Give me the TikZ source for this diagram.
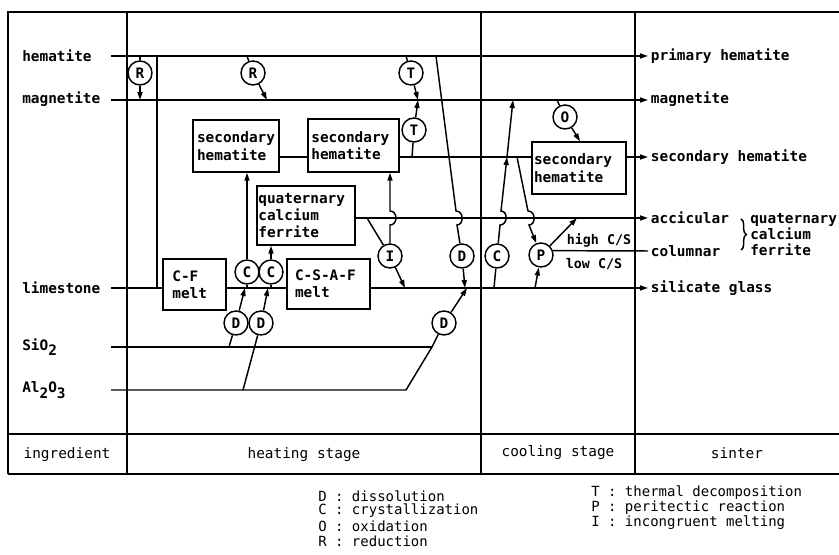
\documentclass[tikz,border=0pt]{standalone}
\usepackage{fontspec}
\setmainfont{DejaVu Sans Mono}
\setmonofont{DejaVu Sans Mono}
\usetikzlibrary{arrows.meta,decorations.pathreplacing,calc}
\begin{document}
\begin{tikzpicture}[x=0.75pt,y=-0.75pt,
  every node/.style={font=\fontsize{10.8}{13}\selectfont\bfseries, inner sep=0pt},
  ln/.style={line width=1.1pt},
  frm/.style={line width=1.5pt},
  arr/.style={ln,-{Triangle[length=6pt,width=3.8pt]}},
  proc/.style={circle,draw,line width=1.1pt,minimum size=18pt,fill=white},
  box/.style={draw,line width=1.1pt,align=left,inner ysep=0pt,fill=white},
  lab/.style={anchor=west,inner xsep=2pt},
  stg/.style={font=\fontsize{10.8}{13}\selectfont},
  leg/.style={anchor=west,font=\fontsize{10.5}{12}\selectfont},
]
\useasboundingbox (0,0) rectangle (839,555);

% frame
\draw[frm] (8,474) -- (8,12) -- (839,12);
\draw[frm] (8,434) -- (839,434);
\draw[frm] (8,474) -- (839,474);
\draw[frm] (127,12) -- (127,474);
\draw[frm] (481,12) -- (481,474);
\draw[frm] (635,12) -- (635,474);

% ingredient labels
\node[anchor=west] (lhem) at (22,56) {hematite};
\node[anchor=west] (lmag) at (22,99) {magnetite};
\node[anchor=west] (llim) at (22,288) {limestone};
\node[anchor=west] (lsio) at (22,347) {SiO\raisebox{-0.7ex}{2}};
\node[anchor=west] (lal) at (22,390) {Al\raisebox{-0.7ex}{2}O\raisebox{-0.7ex}{3}};

% sinter labels
\node[lab] (ph) at (648,56) {primary hematite};
\node[lab] (mg) at (648,99) {magnetite};
\node[lab] (sh) at (648,157) {secondary hematite};
\node[lab] (acc) at (648,218) {accicular};
\node[lab] (col) at (648,251) {columnar};
\node[lab] (sg) at (648,288) {silicate glass};
\node[anchor=west,align=left,font=\fontsize{10.8}{12}\selectfont\bfseries] (qcfl) at (750,235) {quaternary\\calcium\\ferrite};
\coordinate (bt) at (741,219);
\coordinate (bb) at (741,250);
\draw[ln,decorate,decoration={brace,amplitude=4pt}] (bt) -- (bb);

% boxes
\node[box,text width=58.5pt,inner xsep=3pt,minimum height=39pt] (box1) at (236,146) {secondary\\hematite};
\node[box,text width=63.25pt,inner xsep=2.5pt,minimum height=39.75pt] (box2) at (353.5,145.5) {secondary\\hematite};
\node[box,text width=71.5pt,inner xsep=1pt,minimum height=44.25pt] (qcf) at (306,215.5) {quaternary\\calcium\\ferrite};
\node[box,text width=50.25pt,inner xsep=6pt,minimum height=37.5pt] (csaf) at (328.5,284) {C-S-A-F\\melt};
\node[box,text width=33.25pt,inner xsep=7pt,minimum height=38.25pt] (cf) at (194.5,284.5) {C-F\\melt};
\node[box,text width=67.5pt,inner xsep=1.5pt,minimum height=39pt] (box3) at (579,168) {secondary\\hematite};

% main horizontal lines
\draw[arr] (111,56) -- (ph.west);
\draw[arr] (111,100) -- (mg.west |- 0,100);
\draw[ln] (157,56) -- (157,288);
\draw[ln] (111,288) -- (cf.west |- 0,288);
\draw[ln] (cf.east |- 0,288) -- (csaf.west |- 0,288);
\draw[arr] (csaf.east |- 0,288) -- (sg.west);
\draw[ln] (111,347) -- (432,347);
\draw[ln] (111,390) -- (406,390) -- (432,347);
\draw[ln] (box1.east |- 0,157) -- (box2.west |- 0,157);
\draw[ln] (box2.east |- 0,157) -- (box3.west |- 0,157);
\draw[arr] (box3.east |- 0,157) -- (sh.west);
\draw[arr] (qcf.east |- 0,218) -- (acc.west);

% process circles
\node[proc] (R1) at (140,73) {R};
\node[proc] (R2) at (253,73) {R};
\node[proc] (T2) at (411,73) {T};
\node[proc] (T1) at (414,130) {T};
\node[proc] (O) at (565,117) {O};
\node[proc] (C1) at (247,272) {C};
\node[proc] (C2) at (271,272) {C};
\node[proc] (D1) at (236,323) {D};
\node[proc] (D2) at (261,323) {D};
\node[proc] (D3) at (444,323) {D};
\node[proc] (D4) at (462,256) {D};
\node[proc] (I) at (390,256) {I};
\node[proc] (C5) at (497,256) {C};
\node[proc] (P) at (541,255) {P};

% reduction
\draw[ln] (140,56) -- (R1);
\draw[arr] (R1) -- (140,100);
\draw[ln] (247,56) -- (R2);
\draw[arr] (R2) -- (267,100);
% thermal decomposition
\draw[ln] (406,56) -- (T2);
\draw[arr] (T2) -- (418,100);
\draw[ln] (412,157) -- (T1);
\draw[arr] (T1) -- (418,100);
% oxidation
\draw[ln] (557,100) -- (O);
\draw[arr] (O) -- (580,0 |- box3.north);

% dissolution / crystallization
\draw[ln] (229,347) -- (D1);
\draw[arr] (D1) -- (245,288);
\draw[ln] (243,390) -- (D2);
\draw[arr] (D2) -- (268,288);
\draw[ln] (247,288) -- (C1);
\draw[arr] (C1) -- (C1.north |- box1.south);
\draw[ln] (271,288) -- (C2);
\draw[arr] (C2) -- (C2.north |- qcf.south);
\draw[ln] (432,347) -- (D3);
\draw[arr] (D3) -- (467,288);

% incongruent melting
\draw[ln] (367,218) -- (I);
\draw[arr] (I) -- (405,288);
\draw[arr] (I) -- (390,225) .. controls (398,225) and (398,211) .. (390,211) -- (390,0 |- box2.south);

% hematite dissolution
\draw[ln] (436,56) -- (456,211) .. controls (464,211) and (464,225) .. (457,225) -- (D4);
\draw[arr] (D4) -- (465,288);

% cooling stage
\draw[ln] (494,288) -- (C5);
\draw[arr] (C5) -- (500,225) .. controls (508,225) and (508,211) .. (501,211) -- (507,157);
\draw[arr] (507,157) -- (513,100);
\draw[arr] (517,157) -- (528,211) .. controls (536,211) and (536,225) .. (529,225) -- (P);
\draw[arr] (535,288) -- (P);
\draw[arr] (P) -- (577,218);
\draw[ln] (P.20) -- (col.west);
\node[font=\fontsize{10}{12}\selectfont\bfseries] (hcs) at (599,240) {high C/S};
\node[font=\fontsize{10}{12}\selectfont\bfseries] (lcs) at (594,264) {low C/S};

% stage labels
\node[stg] (s1) at (67,455) {ingredient};
\node[stg] (s2) at (304,455) {heating stage};
\node[stg] (s3) at (558,453) {cooling stage};
\node[stg] (s4) at (737,453) {sinter};

% legend
\node[leg] (g1) at (318,496) {D : dissolution};
\node[leg] (g2) at (318,511) {C : crystallization};
\node[leg] (g3) at (318,526) {O : oxidation};
\node[leg] (g4) at (318,541) {R : reduction};
\node[leg] (g5) at (591,493) {T : thermal decomposition};
\node[leg] (g6) at (591,508) {P : peritectic reaction};
\node[leg] (g7) at (591,523) {I : incongruent melting};
\end{tikzpicture}
\end{document}
